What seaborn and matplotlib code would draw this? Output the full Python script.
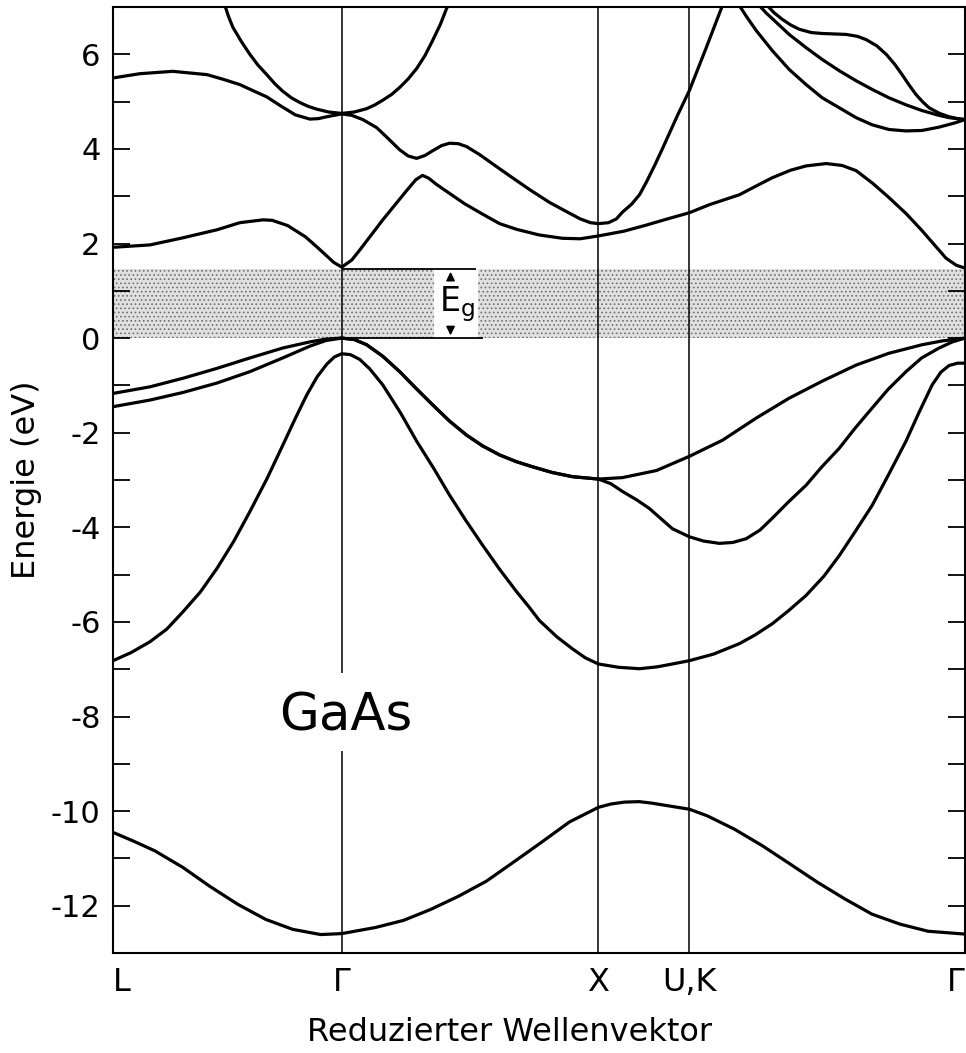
import numpy as np
import pandas as pd
import matplotlib
matplotlib.use('Agg')
import matplotlib.pyplot as plt
from matplotlib.ticker import MultipleLocator
import seaborn as sns

# symmetry points along the path (reduced wave vector)
k_sym = [0.0, 0.891, 1.891, 2.245, 3.319]
sym_labels = ['L', 'Γ', 'X', 'U,K', 'Γ']

# lowest valence band (s-like)
k_v1 = [0.0, 0.078, 0.163, 0.272, 0.377, 0.486, 0.595, 0.700, 0.809, 0.891, 1.023, 1.132,
        1.237, 1.346, 1.455, 1.560, 1.669, 1.778, 1.891, 1.940, 1.992, 2.050, 2.097, 2.245, 2.315, 2.420,
        2.529, 2.638, 2.743, 2.852, 2.957, 3.066, 3.175, 3.319]
E_v1 = [-10.45, -10.63, -10.84, -11.19, -11.59, -11.97, -12.29, -12.50, -12.61, -12.59, -12.46, -12.31,
        -12.08, -11.80, -11.48, -11.08, -10.66, -10.23, -9.92, -9.85, -9.81, -9.80, -9.83, -9.96, -10.10, -10.38,
        -10.73, -11.12, -11.50, -11.86, -12.18, -12.39, -12.54, -12.60]

# second valence band
k_v2 = [0.0, 0.07, 0.144, 0.21, 0.272, 0.34, 0.405, 0.47, 0.533, 0.60, 0.661, 0.71, 0.755, 0.795,
        0.833, 0.862, 0.891, 0.925, 0.961, 1.0, 1.051, 1.12, 1.183, 1.25, 1.311, 1.375, 1.440, 1.505,
        1.572, 1.62, 1.661, 1.73, 1.790, 1.84, 1.891, 1.97, 2.051, 2.12, 2.179, 2.245, 2.34, 2.440,
        2.50, 2.568, 2.63, 2.700, 2.77, 2.829, 2.89, 2.957, 3.02, 3.089, 3.14, 3.191, 3.225, 3.257,
        3.29, 3.319]
E_v2 = [-6.82, -6.65, -6.42, -6.15, -5.79, -5.37, -4.87, -4.30, -3.67, -2.97, -2.27, -1.70, -1.20, -0.82,
        -0.55, -0.40, -0.33, -0.35, -0.45, -0.65, -0.99, -1.58, -2.18, -2.76, -3.32, -3.86, -4.38, -4.88,
        -5.36, -5.68, -5.97, -6.32, -6.57, -6.76, -6.89, -6.96, -6.99, -6.95, -6.89, -6.82, -6.68, -6.46,
        -6.28, -6.04, -5.77, -5.44, -5.03, -4.60, -4.10, -3.54, -2.90, -2.18, -1.57, -0.99, -0.72, -0.58,
        -0.53, -0.53]

# top valence band, upper branch
k_v3 = [0.0, 0.144, 0.272, 0.405, 0.533, 0.661, 0.767, 0.83, 0.891, 0.940, 0.988, 1.05, 1.117,
        1.18, 1.245, 1.31, 1.377, 1.44, 1.506, 1.57, 1.634, 1.71, 1.790, 1.891, 1.984, 2.117,
        2.245, 2.374, 2.506, 2.634, 2.763, 2.895, 3.023, 3.152, 3.23, 3.319]
E_v3 = [-1.17, -1.03, -0.85, -0.64, -0.42, -0.21, -0.08, -0.02, 0.0, -0.03, -0.14, -0.38, -0.71,
        -1.06, -1.41, -1.75, -2.05, -2.28, -2.47, -2.61, -2.72, -2.84, -2.93, -2.98, -2.95, -2.80,
        -2.50, -2.16, -1.69, -1.27, -0.91, -0.57, -0.32, -0.14, -0.06, 0.0]

# top valence band, lower branch
k_v4 = [0.0, 0.144, 0.272, 0.405, 0.533, 0.661, 0.767, 0.83, 0.891, 0.940, 0.988, 1.05, 1.117,
        1.18, 1.245, 1.31, 1.377, 1.44, 1.506, 1.57, 1.634, 1.71, 1.790, 1.891, 1.94, 1.984,
        2.04, 2.089, 2.135, 2.179, 2.245, 2.30, 2.362, 2.415, 2.467, 2.52, 2.568, 2.63, 2.700,
        2.76, 2.829, 2.89, 2.957, 3.02, 3.089, 3.15, 3.218, 3.27, 3.319]
E_v4 = [-1.45, -1.31, -1.15, -0.95, -0.71, -0.42, -0.17, -0.05, 0.0, -0.03, -0.14, -0.38, -0.71,
        -1.06, -1.41, -1.75, -2.05, -2.28, -2.47, -2.61, -2.72, -2.84, -2.93, -2.98, -3.08, -3.24,
        -3.42, -3.60, -3.82, -4.03, -4.20, -4.29, -4.34, -4.32, -4.24, -4.06, -3.81, -3.47, -3.11,
        -2.73, -2.33, -1.91, -1.48, -1.08, -0.71, -0.42, -0.21, -0.08, 0.0]

# lowest conduction band
k_c1 = [0.0, 0.144, 0.272, 0.405, 0.494, 0.584, 0.62, 0.68, 0.75, 0.80, 0.86, 0.891, 0.93,
        0.961, 1.051, 1.144, 1.18, 1.206, 1.23, 1.26, 1.300, 1.37, 1.440, 1.506, 1.572, 1.661,
        1.751, 1.820, 1.891, 1.99, 2.078, 2.16, 2.245, 2.323, 2.440, 2.50, 2.568, 2.64, 2.700,
        2.778, 2.84, 2.895, 2.96, 3.023, 3.09, 3.152, 3.20, 3.245, 3.285, 3.319]
E_c1 = [1.92, 1.97, 2.12, 2.29, 2.44, 2.50, 2.49, 2.38, 2.14, 1.90, 1.60, 1.50, 1.65,
        1.86, 2.50, 3.12, 3.35, 3.44, 3.38, 3.25, 3.10, 2.84, 2.62, 2.42, 2.30, 2.18,
        2.11, 2.10, 2.16, 2.26, 2.39, 2.52, 2.65, 2.82, 3.03, 3.20, 3.39, 3.55, 3.64,
        3.69, 3.65, 3.54, 3.27, 2.97, 2.63, 2.27, 1.97, 1.69, 1.54, 1.48]

# second conduction band
k_c2 = [0.0, 0.105, 0.233, 0.366, 0.43, 0.494, 0.55, 0.599, 0.650, 0.710, 0.767, 0.80, 0.833,
        0.891, 0.93, 0.973, 1.027, 1.066, 1.117, 1.15, 1.183, 1.215, 1.245, 1.28, 1.311, 1.345,
        1.377, 1.428, 1.506, 1.572, 1.623, 1.700, 1.751, 1.820, 1.86, 1.891, 1.93, 1.961, 1.984,
        2.02, 2.051, 2.078, 2.11, 2.140, 2.20, 2.245, 2.311, 2.374]
E_c2 = [5.50, 5.59, 5.64, 5.57, 5.47, 5.36, 5.22, 5.10, 4.92, 4.72, 4.63, 4.64, 4.68,
        4.74, 4.71, 4.62, 4.45, 4.25, 3.98, 3.85, 3.80, 3.86, 3.96, 4.07, 4.12, 4.11,
        4.05, 3.88, 3.58, 3.33, 3.14, 2.87, 2.72, 2.52, 2.44, 2.42, 2.44, 2.52, 2.66,
        2.83, 3.03, 3.30, 3.65, 4.00, 4.72, 5.23, 6.14, 7.03]

# Gamma parabola
k_c3 = [0.436, 0.45, 0.467, 0.50, 0.533, 0.565, 0.599, 0.63, 0.661, 0.695, 0.728, 0.76, 0.794,
        0.84, 0.891, 0.94, 0.988, 1.02, 1.051, 1.085, 1.117, 1.15, 1.183, 1.215, 1.245, 1.275, 1.304]
E_c3 = [7.03, 6.80, 6.57, 6.27, 6.00, 5.77, 5.57, 5.38, 5.22, 5.08, 4.98, 4.90, 4.84,
        4.78, 4.75, 4.78, 4.85, 4.93, 5.03, 5.15, 5.30, 5.48, 5.70, 5.97, 6.29, 6.63, 7.03]

# upper bands towards Gamma (K-Gamma)
k_c4 = [2.440, 2.47, 2.506, 2.568, 2.634, 2.700, 2.763, 2.829, 2.895, 2.957, 3.023, 3.089,
        3.152, 3.218, 3.280, 3.319]
E_c4 = [7.03, 6.78, 6.50, 6.08, 5.68, 5.36, 5.08, 4.87, 4.66, 4.51, 4.41, 4.38,
        4.39, 4.46, 4.55, 4.62]
k_c5 = [2.518, 2.545, 2.575, 2.634, 2.70, 2.763, 2.83, 2.895, 2.96, 3.023, 3.09, 3.152,
        3.21, 3.257, 3.319]
E_c5 = [7.03, 6.87, 6.72, 6.42, 6.14, 5.89, 5.65, 5.44, 5.25, 5.08, 4.93, 4.81,
        4.72, 4.66, 4.62]
k_c6 = [2.549, 2.575, 2.607, 2.64, 2.673, 2.72, 2.763, 2.81, 2.856, 2.90, 2.934, 2.975,
        3.012, 3.045, 3.074, 3.10, 3.128, 3.155, 3.179, 3.22, 3.257, 3.29, 3.319]
E_c6 = [7.03, 6.88, 6.74, 6.62, 6.53, 6.46, 6.44, 6.43, 6.42, 6.38, 6.31, 6.18,
        6.00, 5.79, 5.57, 5.36, 5.15, 4.99, 4.87, 4.75, 4.68, 4.64, 4.62]

bands = {'v1': (k_v1, E_v1), 'v2': (k_v2, E_v2), 'v3': (k_v3, E_v3), 'v4': (k_v4, E_v4),
         'c1': (k_c1, E_c1), 'c2': (k_c2, E_c2), 'c3': (k_c3, E_c3),
         'c4': (k_c4, E_c4), 'c5': (k_c5, E_c5), 'c6': (k_c6, E_c6)}
df = pd.concat([pd.DataFrame({'k': k, 'E': E, 'band': name}) for name, (k, E) in bands.items()],
               ignore_index=True)

E_gap = 1.46

sns.set_style('white')
plt.rcParams['font.family'] = ['DejaVu Sans']
plt.rcParams['axes.unicode_minus'] = False
plt.rcParams['hatch.linewidth'] = 0.7
for key in ['text.color', 'axes.labelcolor', 'xtick.color', 'ytick.color']:
    plt.rcParams[key] = 'black'

fig = plt.figure(figsize=(9.66, 10.53), dpi=100)
ax = fig.add_axes([113/966, 1 - 953/1053, 852/966, 946/1053])

# stippled gap region
for k0, k1 in [(0, 1.25), (1.42, 3.319)]:
    ax.fill_between([k0, k1], 0, E_gap, facecolor='#e0e0e0', edgecolor='#707070',
                    hatch='....', lw=0, zorder=0)

sns.lineplot(data=df, x='k', y='E', units='band', estimator=None, sort=False,
             color='black', lw=2.3, ax=ax, legend=False, solid_capstyle='round', solid_joinstyle='round')

# symmetry lines
ax.vlines(k_sym[1], -7.08, 7, color='black', lw=1.1)
ax.vlines(k_sym[1], -13, -8.73, color='black', lw=1.1)
for k in k_sym[2:4]:
    ax.axvline(k, color='black', lw=1.1)

# band gap marker
ax.hlines(E_gap, k_sym[1], 1.416, color='black', lw=1.3)
ax.hlines(0, k_sym[1], 1.44, color='black', lw=1.3)
ax.annotate('', xy=(1.315, E_gap), xytext=(1.315, 1.16),
            arrowprops=dict(arrowstyle='-|>', color='black', lw=1.1, mutation_scale=13))
ax.annotate('', xy=(1.315, 0), xytext=(1.315, 0.30),
            arrowprops=dict(arrowstyle='-|>', color='black', lw=1.1, mutation_scale=13))
ax.text(1.34, 0.72, r'$\mathregular{E_g}$', fontsize=24, ha='center', va='center')

ax.text(0.905, -8.3, 'GaAs', fontsize=37, ha='center', va='baseline')

ax.set_xlim(0, 3.319)
ax.set_ylim(-13, 7)
ax.set_yticks(range(-12, 7, 2))
ax.yaxis.set_minor_locator(MultipleLocator(1))
ax.tick_params(axis='y', which='both', direction='in', length=12, width=1.3,
               left=True, right=True, labelsize=22, pad=9)
ax.set_xticks(k_sym, sym_labels)
ax.tick_params(axis='x', length=0, pad=10, labelsize=23)
ax.get_xticklabels()[0].set_ha('left')
ax.get_xticklabels()[-1].set_ha('right')
for s in ax.spines.values():
    s.set_linewidth(1.5)
    s.set_color('black')

ax.set_xlabel('Reduzierter Wellenvektor', fontsize=23)
ax.set_ylabel('Energie (eV)', fontsize=23, labelpad=6)
ax.xaxis.set_label_coords(0.465, -0.068)

fig.savefig('out.png', dpi=100)
